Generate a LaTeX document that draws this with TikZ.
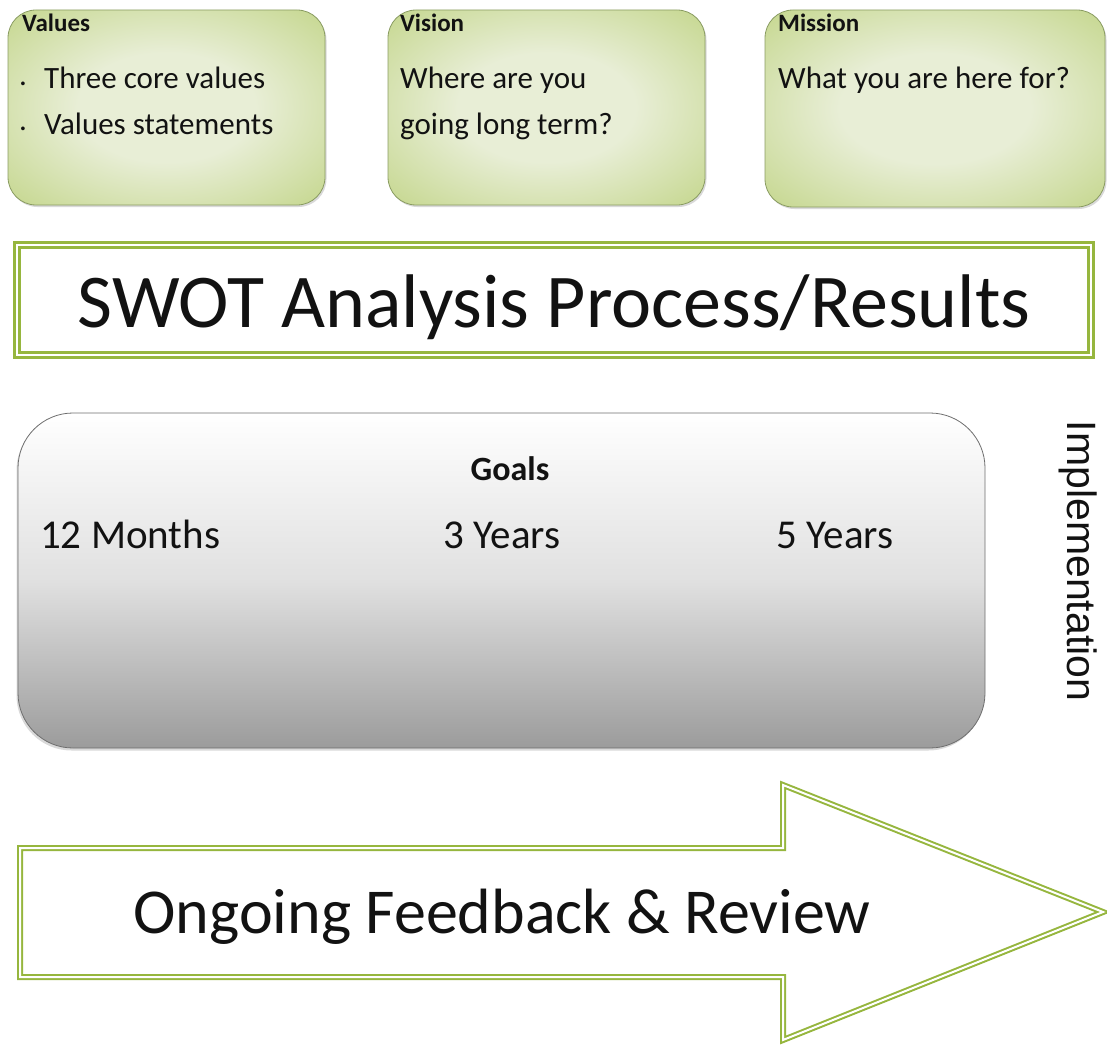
\documentclass[tikz,border=0pt]{standalone}
\usepackage{fontspec}
\setmainfont{Carlito}
\newfontfamily\implfont{Liberation Sans}
\usetikzlibrary{shadows}
\definecolor{boxlight}{RGB}{232,238,214}
\definecolor{boxmid}{RGB}{196,214,140}
\definecolor{boxdark}{RGB}{162,189,82}
\definecolor{boxedge}{RGB}{138,156,98}
\definecolor{swotgreen}{RGB}{150,182,62}
\definecolor{goalsedge}{RGB}{110,110,110}
\definecolor{inkblack}{RGB}{18,18,18}
\pgfdeclareradialshading{greenglow}{\pgfpointorigin}{color(0bp)=(boxlight);
  color(14bp)=(boxlight); color(36bp)=(boxmid); color(50bp)=(boxdark)}

\begin{document}
\begin{tikzpicture}[
  x=1pt,y=-1pt,
  text=inkblack,
  greenbox/.style={rounded corners=28pt,draw=boxedge,line width=0.8pt,
    shading=greenglow,
    drop shadow={shadow xshift=1.5pt,shadow yshift=-2pt,opacity=0.3}},
  boxtitle/.style={font=\fontsize{25}{30}\selectfont\bfseries,anchor=base west,inner sep=0pt},
  boxtext/.style={font=\fontsize{31}{36}\selectfont,anchor=base west,inner sep=0pt},
  swotbox/.style={draw=swotgreen,line width=2.4pt,double=white,double distance=2.4pt},
  goalsbox/.style={rounded corners=55pt,draw=goalsedge,line width=0.8pt,
    top color=white,bottom color=black!39,middle color=black!12,
    drop shadow={shadow xshift=-1.5pt,shadow yshift=-2.5pt,opacity=0.3}},
  goalstext/.style={font=\fontsize{41}{48}\selectfont,anchor=base,inner sep=0pt},
  feedbackarrow/.style={draw=swotgreen,line width=2pt,double=white,double distance=2pt,
    line join=miter}
]
\useasboundingbox (0,0) rectangle (1107,1046);

% -------------------------------------------------------------------------
% Values / Vision / Mission
% -------------------------------------------------------------------------
\node[greenbox,minimum width=317pt,minimum height=195pt] (values) at (166.5,107.5) {};
\node[greenbox,minimum width=317pt,minimum height=195pt] (vision) at (546.5,107.5) {};
\node[greenbox,minimum width=340pt,minimum height=197pt] (mission) at (935,108.5) {};

\newcommand{\bulletdot}{\makebox[25pt][l]{\raisebox{3pt}{.}}}
\node[boxtitle] (valuestitle) at (22,32) {Values};
\node[boxtext] (valuesone) at (19,89) {\bulletdot Three core values};
\node[boxtext] (valuestwo) at (19,134) {\bulletdot Values statements};

\node[boxtitle] (visiontitle) at (400,32) {Vision};
\node[boxtext] (visionone) at (400,89) {Where are you};
\node[boxtext] (visiontwo) at (400,134) {going long term?};

\node[boxtitle] (missiontitle) at (778,32) {Mission};
\node[boxtext] (missionone) at (778,89) {What you are here for?};

% -------------------------------------------------------------------------
% SWOT
% -------------------------------------------------------------------------
\node[swotbox,minimum width=1074pt,minimum height=110pt] (swot) at (554,300) {};
\node[font=\fontsize{76}{90}\selectfont,anchor=base,inner sep=0pt] (swottext) at (554,327)
  {SWOT Analysis Process/Results};

% -------------------------------------------------------------------------
% Goals
% -------------------------------------------------------------------------
\node[goalsbox,minimum width=967pt,minimum height=335pt] (goals) at (501.5,580.5) {};
\node[font=\fontsize{34}{40}\selectfont\bfseries,anchor=base,inner sep=0pt] (goalstitle)
  at (510,480) {Goals};
\node[goalstext,anchor=base west] (twelvemonths) at (40,548) {12 Months};
\node[goalstext] (threeyears) at (502,548) {3 Years};
\node[goalstext] (fiveyears) at (835,548) {5 Years};
\node[rotate=-90,font=\implfont\fontsize{41}{48}\selectfont,inner sep=0pt] (impl)
  at (1078,561) {Implementation};

% -------------------------------------------------------------------------
% Feedback arrow
% -------------------------------------------------------------------------
\draw[feedbackarrow] (20,848) -- (783,848) -- (783,785) -- (1103,912)
  -- (783,1040) -- (783,977) -- (20,977) -- cycle;
\node[font=\fontsize{64}{76}\selectfont,anchor=base,inner sep=0pt] (feedback) at (502,933)
  {Ongoing Feedback \& Review};
\end{tikzpicture}
\end{document}
